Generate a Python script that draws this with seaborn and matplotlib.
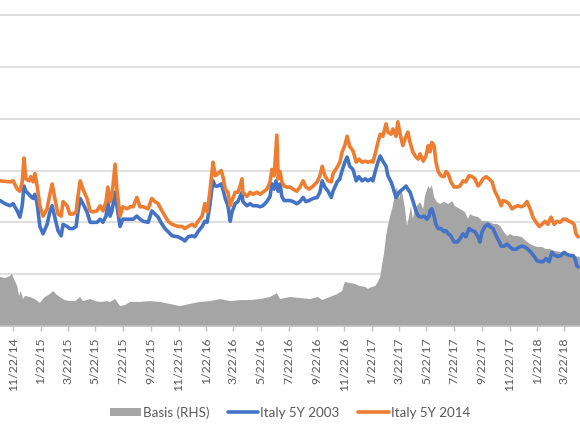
import numpy as np
import pandas as pd
import matplotlib
matplotlib.use("Agg")
import matplotlib.pyplot as plt
from matplotlib.patches import Patch
from matplotlib.lines import Line2D
import seaborn as sns

# ---------------- data ----------------
start_date = "2014-10-24"   # left edge of the visible window

# Italy 5Y 2014 (bp): day offsets from start_date, values
it2014_days = [0, 22, 29, 38, 44, 49, 53, 57, 64, 68, 73, 77, 82, 88, 95, 104, 110, 115, 121, 128,
               135, 139, 148, 154, 161, 168, 172, 177, 183, 192, 199, 205, 214, 221, 227, 234, 238, 243, 247, 254,
               258, 265, 271, 280, 287, 294, 302, 309, 316, 327, 335, 342, 349, 355, 364, 371, 380, 393, 402, 408,
               415, 424, 430, 437, 446, 452, 457, 463, 468, 470, 475, 481, 488, 492, 497, 503, 508, 512, 519, 525,
               530, 534, 536, 545, 552, 558, 567, 574, 580, 589, 596, 600, 605, 611, 614, 618, 622, 627, 633, 640,
               647, 655, 662, 669, 675, 682, 691, 700, 706, 711, 717, 724, 731, 735, 744, 750, 755, 761, 766, 772,
               779, 786, 792, 799, 806, 812, 819, 823, 828, 834, 839, 845, 852, 856, 863, 867, 874, 878, 883, 889,
               896, 900, 905, 911, 918, 923, 927, 934, 940, 945, 949, 953, 958, 962, 967, 973, 980, 984, 989, 995,
               1002, 1009, 1015, 1022, 1028, 1035, 1042, 1048, 1055, 1062, 1066, 1073, 1079, 1086, 1092, 1099, 1106, 1110, 1117, 1123,
               1130, 1137, 1143, 1150, 1156, 1163, 1170, 1176, 1183, 1190, 1196, 1203, 1209, 1216, 1223, 1229, 1236, 1243, 1249, 1256,
               1262, 1267, 1271, 1276]
it2014_vals = [140, 139, 140, 132, 130, 139, 162, 142, 140, 144, 139, 147, 135, 116, 106, 113, 127, 137, 123, 108,
               106, 120, 116, 108, 108, 110, 125, 140, 132, 123, 111, 110, 111, 116, 111, 120, 134, 120, 125, 156,
               132, 106, 115, 113, 115, 115, 124, 115, 115, 113, 123, 120, 118, 113, 106, 101, 98, 96, 96, 94,
               96, 98, 96, 101, 106, 118, 110, 129, 149, 158, 145, 147, 150, 144, 132, 129, 116, 121, 129, 129,
               135, 142, 129, 125, 129, 127, 129, 127, 129, 132, 139, 151, 145, 184, 142, 149, 139, 135, 134, 134,
               132, 130, 134, 140, 134, 132, 135, 139, 145, 154, 145, 140, 139, 147, 153, 158, 168, 174, 183, 173,
               169, 158, 161, 158, 159, 158, 159, 158, 166, 177, 185, 183, 195, 187, 185, 190, 183, 197, 185, 174,
               183, 187, 177, 168, 163, 161, 166, 159, 164, 174, 168, 177, 174, 158, 149, 145, 144, 149, 147, 139,
               134, 134, 135, 140, 139, 145, 144, 142, 135, 139, 142, 144, 142, 139, 130, 124, 116, 121, 120, 118,
               113, 115, 116, 115, 116, 120, 113, 105, 100, 96, 98, 101, 98, 105, 98, 101, 100, 103, 103, 101,
               100, 98, 89, 86]

# Italy 5Y 2003 (bp)
it2003_days = [0, 11, 22, 29, 38, 44, 49, 53, 57, 64, 68, 73, 77, 82, 88, 95, 104, 110, 115, 121,
               128, 135, 139, 148, 154, 161, 168, 172, 177, 183, 192, 199, 205, 214, 221, 227, 234, 238, 243, 247,
               254, 258, 265, 271, 280, 287, 294, 302, 309, 316, 327, 335, 342, 349, 355, 364, 371, 380, 393, 402,
               408, 415, 424, 430, 437, 446, 452, 457, 463, 468, 470, 475, 481, 488, 492, 497, 503, 508, 512, 519,
               525, 530, 534, 536, 545, 552, 558, 567, 574, 580, 589, 596, 600, 605, 609, 614, 618, 622, 627, 633,
               640, 647, 655, 662, 669, 675, 682, 691, 700, 706, 711, 717, 724, 731, 735, 744, 750, 755, 761, 766,
               772, 779, 786, 792, 799, 806, 812, 819, 823, 828, 834, 839, 845, 852, 856, 863, 867, 874, 878, 883,
               889, 896, 900, 905, 911, 918, 923, 929, 936, 942, 947, 949, 953, 958, 962, 967, 973, 980, 984, 989,
               995, 1002, 1009, 1015, 1022, 1028, 1035, 1042, 1048, 1055, 1059, 1064, 1070, 1077, 1081, 1088, 1095, 1101, 1106, 1112,
               1119, 1126, 1132, 1139, 1145, 1152, 1159, 1165, 1172, 1179, 1185, 1192, 1198, 1205, 1212, 1218, 1225, 1232, 1238, 1245,
               1251, 1258, 1265, 1269, 1273, 1276]
it2003_vals = [121, 118, 116, 118, 111, 105, 116, 135, 130, 127, 125, 123, 127, 118, 96, 89, 98, 110, 116, 105,
               92, 87, 98, 96, 94, 94, 96, 110, 123, 118, 110, 100, 100, 100, 103, 100, 106, 120, 106, 111,
               129, 116, 96, 103, 103, 103, 103, 106, 103, 101, 100, 111, 108, 105, 100, 94, 91, 87, 86, 84,
               82, 86, 87, 86, 91, 96, 101, 100, 116, 134, 140, 135, 135, 137, 132, 123, 116, 101, 110, 118,
               120, 125, 129, 120, 116, 118, 116, 116, 115, 116, 120, 125, 137, 132, 140, 130, 137, 125, 121, 121,
               121, 120, 118, 120, 124, 120, 121, 123, 124, 129, 140, 134, 130, 124, 130, 139, 142, 150, 158, 163,
               154, 151, 140, 144, 140, 142, 140, 142, 140, 149, 158, 164, 159, 154, 145, 139, 134, 124, 127, 130,
               132, 135, 132, 129, 121, 111, 106, 105, 106, 103, 106, 111, 113, 106, 98, 94, 94, 91, 92, 89,
               87, 81, 81, 84, 89, 86, 94, 92, 91, 86, 81, 91, 96, 98, 96, 94, 87, 82, 77, 77,
               79, 76, 74, 74, 76, 77, 76, 74, 71, 67, 63, 62, 62, 65, 62, 71, 68, 67, 68, 71,
               69, 68, 68, 65, 58, 57]

# Basis (RHS, bp)
basis_days = [0, 11, 22, 26, 31, 38, 42, 46, 51, 55, 66, 77, 88, 99, 110, 117, 126, 132, 143, 154,
              166, 177, 183, 199, 210, 221, 236, 243, 254, 265, 276, 287, 309, 331, 353, 375, 397, 419, 441, 463,
              486, 508, 530, 552, 574, 596, 611, 618, 640, 662, 684, 702, 711, 728, 744, 755, 761, 772, 783, 795,
              806, 812, 821, 828, 834, 839, 843, 848, 852, 856, 861, 867, 872, 876, 881, 885, 889, 894, 898, 903,
              907, 911, 916, 920, 927, 934, 938, 945, 949, 953, 958, 964, 971, 980, 989, 998, 1004, 1015, 1026, 1033,
              1037, 1046, 1055, 1064, 1073, 1081, 1088, 1097, 1104, 1112, 1119, 1126, 1134, 1143, 1152, 1161, 1170, 1179, 1187, 1196,
              1205, 1214, 1225, 1236, 1247, 1258, 1269, 1280]
basis_vals = [18.9, 18.5, 19.3, 20.1, 18.1, 15.4, 11.6, 13.5, 10.4, 11.6, 11.2, 10.4, 8.9, 11.2, 12.3, 13.5, 12.0, 11.2, 10.0, 9.6,
              9.6, 11.2, 9.6, 10.4, 9.6, 9.3, 9.6, 9.3, 10.4, 7.7, 8.1, 9.3, 9.3, 9.6, 9.3, 8.5, 7.7, 8.5, 9.3, 9.6,
              10.4, 9.6, 10.0, 10.0, 10.4, 11.2, 12.7, 10.4, 11.2, 10.8, 10.4, 11.2, 10.0, 11.2, 12.3, 13.5, 17.0, 16.6, 16.2, 15.4,
              15.1, 14.3, 15.1, 15.4, 17.0, 18.9, 23.2, 28.6, 34.7, 38.6, 42.4, 46.3, 51.7, 53.6, 49.0, 53.6, 50.2, 45.2, 38.6, 42.4,
              46.3, 41.3, 45.2, 46.3, 47.9, 45.2, 50.2, 54.0, 52.9, 54.4, 49.8, 47.9, 47.1, 47.9, 47.1, 48.2, 46.3, 45.2, 44.0, 41.3,
              43.2, 42.4, 42.1, 40.5, 40.5, 40.1, 39.4, 39.4, 38.6, 36.3, 34.7, 35.5, 34.7, 34.7, 34.3, 32.8, 31.6, 30.9, 30.5, 30.5,
              29.7, 29.7, 28.9, 28.6, 28.6, 27.8, 27.0, 26.6]

tick_labels = ['11/22/14', '1/22/15', '3/22/15', '5/22/15', '7/22/15', '9/22/15', '11/22/15',
               '1/22/16', '3/22/16', '5/22/16', '7/22/16', '9/22/16', '11/22/16',
               '1/22/17', '3/22/17', '5/22/17', '7/22/17', '9/22/17', '11/22/17',
               '1/22/18', '3/22/18']

series_names = ['Basis (RHS)', 'Italy 5Y 2003', 'Italy 5Y 2014']
colors = {'Basis (RHS)': '#a5a5a5', 'Italy 5Y 2003': '#4472c4', 'Italy 5Y 2014': '#ed7d31'}

# ---------------- build frames ----------------
base = pd.Timestamp(start_date)
lines_df = pd.concat([
    pd.DataFrame({'date': base + pd.to_timedelta(it2003_days, unit='D'), 'value': it2003_vals,
                  'series': 'Italy 5Y 2003'}),
    pd.DataFrame({'date': base + pd.to_timedelta(it2014_days, unit='D'), 'value': it2014_vals,
                  'series': 'Italy 5Y 2014'}),
], ignore_index=True)
basis_dates = base + pd.to_timedelta(basis_days, unit='D')

# ---------------- figure ----------------
sns.set_style("white")
plt.rcParams['font.family'] = ['Lato', 'DejaVu Sans']

fig = plt.figure(figsize=(5.8, 4.35), dpi=100)
ax = fig.add_axes([0.0, 1 - 327 / 435, 1.0, 327 / 435])
ax2 = ax.twinx()

# RHS: basis area + gridlines
ax2.fill_between(basis_dates, 0, basis_vals, color=colors['Basis (RHS)'], linewidth=0, zorder=1)
ax2.set_ylim(0, 126.2)
ax2.set_yticks(np.arange(0, 121, 20))
ax2.grid(axis='y', color='#d9d9d9', linewidth=1.2, zorder=0)
ax2.set_axisbelow(True)
ax2.tick_params(axis='y', length=0, labelright=False, labelleft=False)

# LHS: lines on top
ax.set_zorder(ax2.get_zorder() + 1)
ax.patch.set_visible(False)
sns.lineplot(data=lines_df, x='date', y='value', hue='series',
             palette={k: colors[k] for k in ['Italy 5Y 2003', 'Italy 5Y 2014']},
             linewidth=2.6, ax=ax, legend=False, sort=True, estimator=None)
ax.set_ylim(0, 315.4)
ax.set_yticks([])
ax.set_xlim(base, base + pd.Timedelta(days=1280))
ax.set_xlabel('')
ax.set_ylabel('')

tick_pos = pd.to_datetime(tick_labels, format='%m/%d/%y')
ax.set_xticks(tick_pos)
ax.set_xticklabels(tick_labels, rotation=90, fontsize=8.8, color='#595959')
ax.tick_params(axis='x', length=3.5, width=1, color='#bfbfbf', pad=4, direction='out', bottom=True)

for a in (ax, ax2):
    for s in ('left', 'right', 'top'):
        a.spines[s].set_visible(False)
ax2.spines['bottom'].set_visible(False)
ax.spines['bottom'].set_color('#bfbfbf')
ax.spines['bottom'].set_linewidth(1.2)

handles = [Patch(facecolor=colors['Basis (RHS)'], edgecolor='none'),
           Line2D([0], [0], color=colors['Italy 5Y 2003'], lw=2.6),
           Line2D([0], [0], color=colors['Italy 5Y 2014'], lw=2.6)]
fig.legend(handles, series_names, loc='center', bbox_to_anchor=(0.5, 1 - 413 / 435), ncol=3,
           frameon=False, fontsize=9.6, labelcolor='#595959', handlelength=2.3,
           handletextpad=0.15, columnspacing=1.4, handleheight=0.55)

fig.savefig('out.png', dpi=100, facecolor='white')
